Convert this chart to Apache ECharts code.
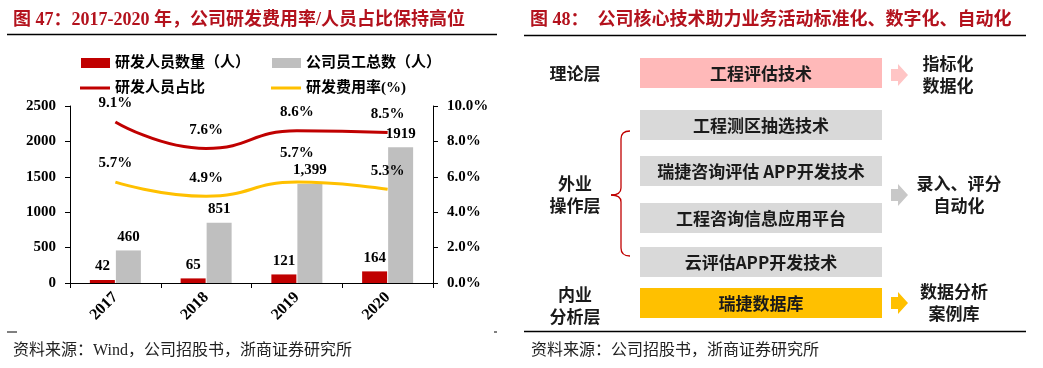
<!DOCTYPE html>
<html><head><meta charset="utf-8">
<script src="https://cdn.jsdelivr.net/npm/echarts@6/dist/echarts.min.js"></script>
<style>html,body{margin:0;padding:0;background:#fff}#c{width:1043px;height:368px}</style>
</head><body><div id="c"></div>
<script>
// ---- data ----
const categories = ['2017', '2018', '2019', '2020'];
const rdStaff = [42, 65, 121, 164];
const totalStaff = [460, 851, 1399, 1919];
const totalStaffLabels = ['460', '851', '1,399', '1919'];
const rdStaffRatio = [9.1, 7.6, 8.6, 8.5];
const rdExpenseRate = [5.7, 4.9, 5.7, 5.3];
const seriesNames = ['研发人员数量（人）', '公司员工总数（人）', '研发人员占比', '研发费用率(%)'];
const leftTitle = '图 47：2017-2020 年，公司研发费用率/人员占比保持高位';
const rightTitle = '图 48：  公司核心技术助力业务活动标准化、数字化、自动化';
const leftSource = '资料来源：Wind，公司招股书，浙商证券研究所';
const rightSource = '资料来源：公司招股书，浙商证券研究所';
const layerNames = ['理论层', '外业\n操作层', '内业\n分析层'];
const techBoxes = ['工程评估技术', '工程测区抽选技术', '瑞捷咨询评估 APP开发技术', '工程咨询信息应用平台', '云评估APP开发技术', '瑞捷数据库'];
const outcomes = ['指标化\n数据化', '录入、评分\n自动化', '数据分析\n案例库'];

// ---- styles ----
const SERIF = "'Liberation Serif','Times New Roman','Noto Sans CJK SC',serif";
const CJK = "'Noto Sans CJK SC',sans-serif";
const RED = '#C00000', YEL = '#FFC000', GRAY = '#BFBFBF', TITLE = '#B3121D';
const numFont = { fontFamily: SERIF, fontWeight: 'bold', fontSize: 15, color: '#000' };

// ---- diagram layout ----
const boxX = 640, boxW = 242, boxH = 30;
const boxTops = [58, 110, 156, 203, 247, 288];
const boxFill = ['#FFB9B9', '#D9D9D9', '#D9D9D9', '#D9D9D9', '#D9D9D9', '#FFC000'];
const layerY = [74, 195, 306];
const outcomeY = [76, 195, 303];
const arrowFill = ['#FFC5C5', '#C8C8C8', '#FFC000'];
const outcomeX = [948, 959, 954];

const graphic = [];
const ln = (x1, y1, x2, y2, w, c) => graphic.push({ type: 'line', shape: { x1, y1, x2, y2 }, style: { stroke: c || '#000', lineWidth: w } });
ln(7, 34.5, 497, 34.5, 1.5);
ln(524, 35.5, 1026, 35.5, 1.5);
ln(524, 331.5, 1026, 331.5, 1.5);
ln(7, 332, 17, 332, 1);
ln(494, 332, 497, 332, 1);

techBoxes.forEach((t, i) => {
  graphic.push({ type: 'rect', shape: { x: boxX, y: boxTops[i], width: boxW, height: boxH }, style: { fill: boxFill[i] } });
  graphic.push({ type: 'text', x: boxX + boxW / 2, y: boxTops[i] + boxH / 2 + 1,
    style: { text: t, fill: '#1a1a1a', font: 'bold 17px ' + CJK, align: 'center', verticalAlign: 'middle' } });
});
layerNames.forEach((t, i) => {
  graphic.push({ type: 'text', x: 575, y: layerY[i],
    style: { text: t, fill: '#1a1a1a', font: 'bold 17px ' + CJK, align: 'center', verticalAlign: 'middle', lineHeight: 22 } });
});
outcomes.forEach((t, i) => {
  const cy = outcomeY[i] - (i === 0 ? 1 : 0);
  graphic.push({ type: 'polygon', shape: { points: [[891, cy - 6], [898, cy - 6], [898, cy - 11], [908, cy], [898, cy + 11], [898, cy + 6], [891, cy + 6]] },
    style: { fill: arrowFill[i] } });
  graphic.push({ type: 'text', x: outcomeX[i], y: cy,
    style: { text: t, fill: '#1a1a1a', font: 'bold 17px ' + CJK, align: 'center', verticalAlign: 'middle', lineHeight: 22 } });
});
// brace
const bz = (x1, y1, cx, cy, x2, y2) => graphic.push({ type: 'bezierCurve', shape: { x1, y1, cpx1: cx, cpy1: cy, x2, y2 }, style: { fill: 'none', stroke: RED, lineWidth: 1.3 } });
bz(630, 131, 621, 131, 621, 139);
ln(621, 139, 621, 188, 1.3, RED);
bz(621, 188, 621, 195, 611, 195);
bz(611, 195, 621, 195, 621, 202);
ln(621, 202, 621, 248, 1.3, RED);
bz(621, 248, 621, 256, 630, 256);

const chart = echarts.init(document.getElementById('c'), null, { renderer: 'canvas' });
chart.setOption({
  animation: false,
  backgroundColor: '#fff',
  title: [
    { text: leftTitle, left: 8, top: 6, textStyle: { fontFamily: SERIF, fontWeight: 'bold', fontSize: 18, color: TITLE } },
    { text: rightTitle, left: 525, top: 6, textStyle: { fontFamily: SERIF, fontWeight: 'bold', fontSize: 18, color: TITLE } },
    { text: leftSource, left: 8, top: 338, textStyle: { fontFamily: SERIF, fontWeight: 'normal', fontSize: 16, color: '#222' } },
    { text: rightSource, left: 526, top: 338, textStyle: { fontFamily: SERIF, fontWeight: 'normal', fontSize: 16, color: '#222' } }
  ],
  legend: [
    { data: [seriesNames[0], seriesNames[1]], left: 81, top: 54, padding: 0, itemGap: 22, itemWidth: 29, itemHeight: 10, icon: 'rect',
      textStyle: { fontFamily: SERIF, fontWeight: 'bold', fontSize: 15, color: '#000', lineHeight: 18 } },
    { data: [seriesNames[2], seriesNames[3]], left: 80, top: 79, padding: 0, itemGap: 66, itemWidth: 30, itemHeight: 3, icon: 'rect',
      textStyle: { fontFamily: SERIF, fontWeight: 'bold', fontSize: 15, color: '#000', lineHeight: 18 } }
  ],
  grid: { left: 70, top: 106, width: 363, height: 177, containLabel: false },
  xAxis: {
    type: 'category', data: categories, boundaryGap: true,
    axisLine: { lineStyle: { color: '#000', width: 1 } },
    axisTick: { show: true, inside: false, length: 5, lineStyle: { color: '#000' } },
    axisLabel: Object.assign({ rotate: 45, margin: 12, interval: 0 }, numFont, { fontSize: 16 })
  },
  yAxis: [
    { type: 'value', min: 0, max: 2500, interval: 500, splitLine: { show: false },
      axisLine: { show: true, lineStyle: { color: '#000' } },
      axisTick: { show: true, length: 5, lineStyle: { color: '#000' } },
      axisLabel: Object.assign({ margin: 14, formatter: v => String(v) }, numFont) },
    { type: 'value', min: 0, max: 10, interval: 2, splitLine: { show: false }, position: 'right',
      axisLine: { show: true, lineStyle: { color: '#000' } },
      axisTick: { show: true, length: 5, lineStyle: { color: '#000' } },
      axisLabel: Object.assign({ margin: 14, formatter: v => v.toFixed(1) + '%' }, numFont) }
  ],
  series: [
    { name: seriesNames[0], type: 'bar', data: rdStaff, barWidth: 25, barGap: '4%', itemStyle: { color: RED },
      label: Object.assign({ show: true, position: 'top', distance: 6 }, numFont) },
    { name: seriesNames[1], type: 'bar', data: totalStaff, barWidth: 25, itemStyle: { color: GRAY },
      label: Object.assign({ show: true, position: 'top', distance: 6, formatter: p => totalStaffLabels[p.dataIndex] }, numFont) },
    { name: seriesNames[2], type: 'line', yAxisIndex: 1, data: rdStaffRatio, smooth: 0.5, symbol: 'circle', symbolSize: 0,
      lineStyle: { color: RED, width: 3 }, itemStyle: { color: RED },
      label: Object.assign({ show: true, position: 'top', distance: 11, formatter: p => p.value.toFixed(1) + '%' }, numFont) },
    { name: seriesNames[3], type: 'line', yAxisIndex: 1, smooth: 0.5, symbol: 'circle', symbolSize: 0,
      data: rdExpenseRate.map((v, i) => i === 2 ? { value: v, label: { offset: [0, -10] } } : v),
      lineStyle: { color: YEL, width: 3 }, itemStyle: { color: YEL },
      label: Object.assign({ show: true, position: 'top', distance: 11, formatter: p => (+p.value).toFixed(1) + '%' }, numFont) }
  ],
  graphic: graphic
});
</script></body></html>
